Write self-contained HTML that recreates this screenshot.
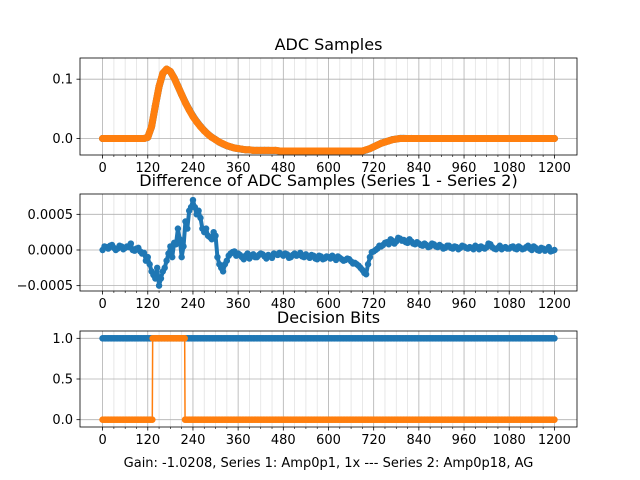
<!DOCTYPE html>
<html><head><meta charset="utf-8"><style>
html,body{margin:0;padding:0;background:#fff;}
svg{display:block;font-family:"DejaVu Sans","Liberation Sans",sans-serif;}
</style></head><body>
<svg id="fig" width="640" height="480" viewBox="0 0 640 480" xmlns="http://www.w3.org/2000/svg"></svg>
<script>
// ---- data ----
const xStep = 10;
const adcSeries2 = [0,0,0,0,0,0,0,0,0,0,0,0,
0.002,0.02,0.055,0.088,0.11,0.117,0.113,0.102,0.088,0.074,0.06,0.048,0.037,0.028,0.02,0.013,0.007,0.002,-0.002,-0.006,-0.009,-0.012,-0.014,-0.016,-0.017,-0.018,-0.019,-0.019,
-0.02,-0.02,-0.02,-0.02,-0.02,-0.02,-0.02,-0.021,-0.021,-0.021,-0.021,-0.021,-0.021,-0.021,-0.021,-0.021,-0.021,-0.021,-0.021,-0.021,-0.021,-0.021,-0.021,-0.021,-0.021,-0.021,-0.021,-0.021,-0.021,-0.021,
-0.019,-0.017,-0.014,-0.011,-0.008,-0.006,-0.004,-0.002,-0.001,0,
0,0,0,0,0,0,0,0,0,0,0,0,0,0,0,0,0,0,0,0,0,0,0,0,0,0,0,0,0,0,0,0,0,0,0,0,0,0,0,0,0];
// difference (x1e-4) at x = 0,10,20,...
const diffE4 = [0,0.4,0.6,0.3,0.2,0.5,0.3,0.4,0,0.2,-0.2,-0.4,
-1,-3,-4,-5,-3,-1.5,0.5,1,3,-1,4,5.5,
7,5,4.5,2.5,2,1.5,2,-2,-3,-1.5,-0.5,-0.2,
-0.5,-1,-0.8,-1.2,-0.6,-1,-0.5,-0.9,-0.7,-1.1,-0.6,-0.4,
-0.8,-0.6,-1,-0.5,-0.7,-0.9,-0.6,-1.1,-0.8,-1.3,-0.9,-1.2,
-1,-0.8,-1.4,-1.1,-1.5,-1.2,-1.6,-1.8,-2.2,-2.8,-3.4,-1,
-0.2,0.2,0.5,1,0.8,1.3,1.2,1.6,1.4,1,1.2,0.8,
0.9,0.6,0.7,0.5,0.8,0.4,0.5,0.3,0.6,0.2,0.4,0.3,
0.5,0.2,0.3,0.6,0.1,0.3,0.4,0.8,0.2,0.3,0.1,0.4,
0.2,0.5,0.1,0.3,0.2,0.6,0,0.3,-0.1,0.2,0.1,-0.2,0];
// difference (x1e-4) at x = 5,15,25,...
const diffE4Mid = [0.5,0.2,0.7,0,0.6,0.1,0.5,0.9,-0.1,0.3,-0.5,-1.5,
-2,-3.5,-2.5,-4,-2.5,-0.5,-1,0.8,1.5,0.5,3,6,
6,5.5,3,3,1.8,2.5,-1,-2.5,-2,-0.8,-0.3,-0.8,
-0.7,-1.3,-0.5,-0.9,-1,-0.7,-0.6,-1.2,-0.9,-0.5,-0.7,-0.6,
-0.5,-1.1,-0.7,-0.8,-0.4,-1,-0.9,-0.7,-1.2,-0.8,-1.3,-0.9,
-1.2,-1.1,-0.9,-1.3,-1.4,-1.3,-1.9,-2,-2.5,-3.2,-2,-0.3,
0,0.6,0.7,1.1,1.5,0.9,1.7,1.3,1.1,1.5,0.9,1.1,
0.7,0.9,0.4,0.9,0.5,0.7,0.2,0.6,0.3,0.5,0.1,0.6,
0.3,0.4,0.1,0.4,0.5,0.2,0.9,0.4,0.1,0.6,0.3,0.2,
0.4,0.2,0.5,0.1,0.4,0.2,0.5,0,0.3,-0.1,0.4,-0.1];
const bits1Runs = [[1,0,1200]];
const bits2Runs = [[0,0,132],[1,133,218],[0,219,1200]];
const xTicks = [0,120,240,360,480,600,720,840,960,1080,1200];
const yTicks1 = [0,0.1], yLabels1 = ["0.0","0.1"];
const yTicks2 = [-0.0005,0,0.0005], yLabels2 = ["\u22120.0005","0.0000","0.0005"];
const yTicks3 = [0,0.5,1], yLabels3 = ["0.0","0.5","1.0"];

const NS="http://www.w3.org/2000/svg";
const svg=document.getElementById('fig');
function mk(tag,attrs,parent){const e=document.createElementNS(NS,tag);for(const k in attrs)e.setAttribute(k,attrs[k]);(parent||svg).appendChild(e);return e;}
const BLUE="#1f77b4",ORANGE="#ff7f0e";
const L=80,R=577,XMIN=-60,XMAX=1260;
const sx=v=>L+(v-XMIN)/(XMAX-XMIN)*(R-L);

function axes(name,top,bot,ymin,ymax,yt,yl,title){
  const g=mk('g',{});
  
  
  const sy=v=>bot-(v-ymin)/(ymax-ymin)*(bot-top);
  for(let v=0;v<=1200;v+=30){ if(v%120===0)continue;
    const l=mk('line',{x1:sx(v),x2:sx(v),y1:top,y2:bot,stroke:'#e2e2e2','stroke-width':0.8},g);
    
    mk('line',{x1:sx(v),x2:sx(v),y1:bot,y2:bot+2,stroke:'#000','stroke-width':0.6},g);}
  xTicks.forEach(v=>{
    const l=mk('line',{x1:sx(v),x2:sx(v),y1:top,y2:bot,stroke:'#b0b0b0','stroke-width':0.8},g);
    
    mk('line',{x1:sx(v),x2:sx(v),y1:bot,y2:bot+3.5,stroke:'#000','stroke-width':0.8},g);
    const t=mk('text',{x:sx(v),y:bot+17,'text-anchor':'middle','font-size':13},g);t.textContent=v;
    });
  yt.forEach((v,i)=>{
    mk('line',{x1:L,x2:R,y1:sy(v),y2:sy(v),stroke:'#b0b0b0','stroke-width':0.8},g);
    mk('line',{x1:L-3.5,x2:L,y1:sy(v),y2:sy(v),stroke:'#000','stroke-width':0.8},g);
    const t=mk('text',{x:L-7,y:sy(v)+4.5,'text-anchor':'end','font-size':13},g);t.textContent=yl[i];
    });
  const tt=mk('text',{x:(L+R)/2,y:top-8,'text-anchor':'middle','font-size':16},svg);tt.textContent=title;
  
  return {g,sy,top,bot};
}
function series(ax,xs,ys,color,name,r,lw){
  const g=mk('g',{},ax.g);
  
  
  let d='';xs.forEach((x,i)=>{d+=(i?'L':'M')+sx(x).toFixed(2)+' '+ax.sy(ys[i]).toFixed(2);});
  mk('path',{d:d,fill:'none',stroke:color,'stroke-width':lw||1.5,'stroke-linejoin':'round','stroke-linecap':'round'},g);
  xs.forEach((x,i)=>mk('circle',{cx:sx(x),cy:ax.sy(ys[i]),r:r,fill:color},g));
}
function frame(ax){mk('rect',{x:L,y:ax.top,width:R-L,height:ax.bot-ax.top,fill:'none',stroke:'#000','stroke-width':0.8},ax.g);}

// panel 1
const a1=axes('adc-samples-axes',58,155,-0.0278,0.1357,yTicks1,yLabels1,'ADC Samples');
const xs=adcSeries2.map((_,i)=>i*xStep);
const adcSeries1=adcSeries2.map((v,i)=>v+diffE4[i]*1e-4);
series(a1,xs,adcSeries1,BLUE,'series-1-adc',3.5,7);
series(a1,xs,adcSeries2,ORANGE,'series-2-adc',3.5,7);
frame(a1);
// panel 2
const a2=axes('difference-axes',194,291,-0.000575,0.000785,yTicks2,yLabels2,'Difference of ADC Samples (Series 1 - Series 2)');
const dX=[],dY=[];
diffE4.forEach((v,i)=>{dX.push(i*xStep);dY.push(v*1e-4);if(i<diffE4Mid.length){dX.push(i*xStep+xStep/2);dY.push(diffE4Mid[i]*1e-4);}});
series(a2,dX,dY,BLUE,'difference-series',3.2,4);
frame(a2);
// panel 3
const a3=axes('decision-bits-axes',331,427,-0.09,1.09,yTicks3,yLabels3,'Decision Bits');
function runsToXY(runs){const X=[],Y=[];runs.forEach(([v,s,e])=>{for(let x=s;x<e;x+=4){X.push(x);Y.push(v);}X.push(e);Y.push(v);});return [X,Y];}
const [b1x,b1y]=runsToXY(bits1Runs);series(a3,b1x,b1y,BLUE,'series-1-bits',3.3);
const [b2x,b2y]=runsToXY(bits2Runs);series(a3,b2x,b2y,ORANGE,'series-2-bits',3.3);
frame(a3);
const xl=mk('text',{x:(L+R)/2,y:467,'text-anchor':'middle','font-size':13});
xl.textContent='Gain: -1.0208, Series 1: Amp0p1, 1x --- Series 2: Amp0p18, AG';

</script>
</body></html>
